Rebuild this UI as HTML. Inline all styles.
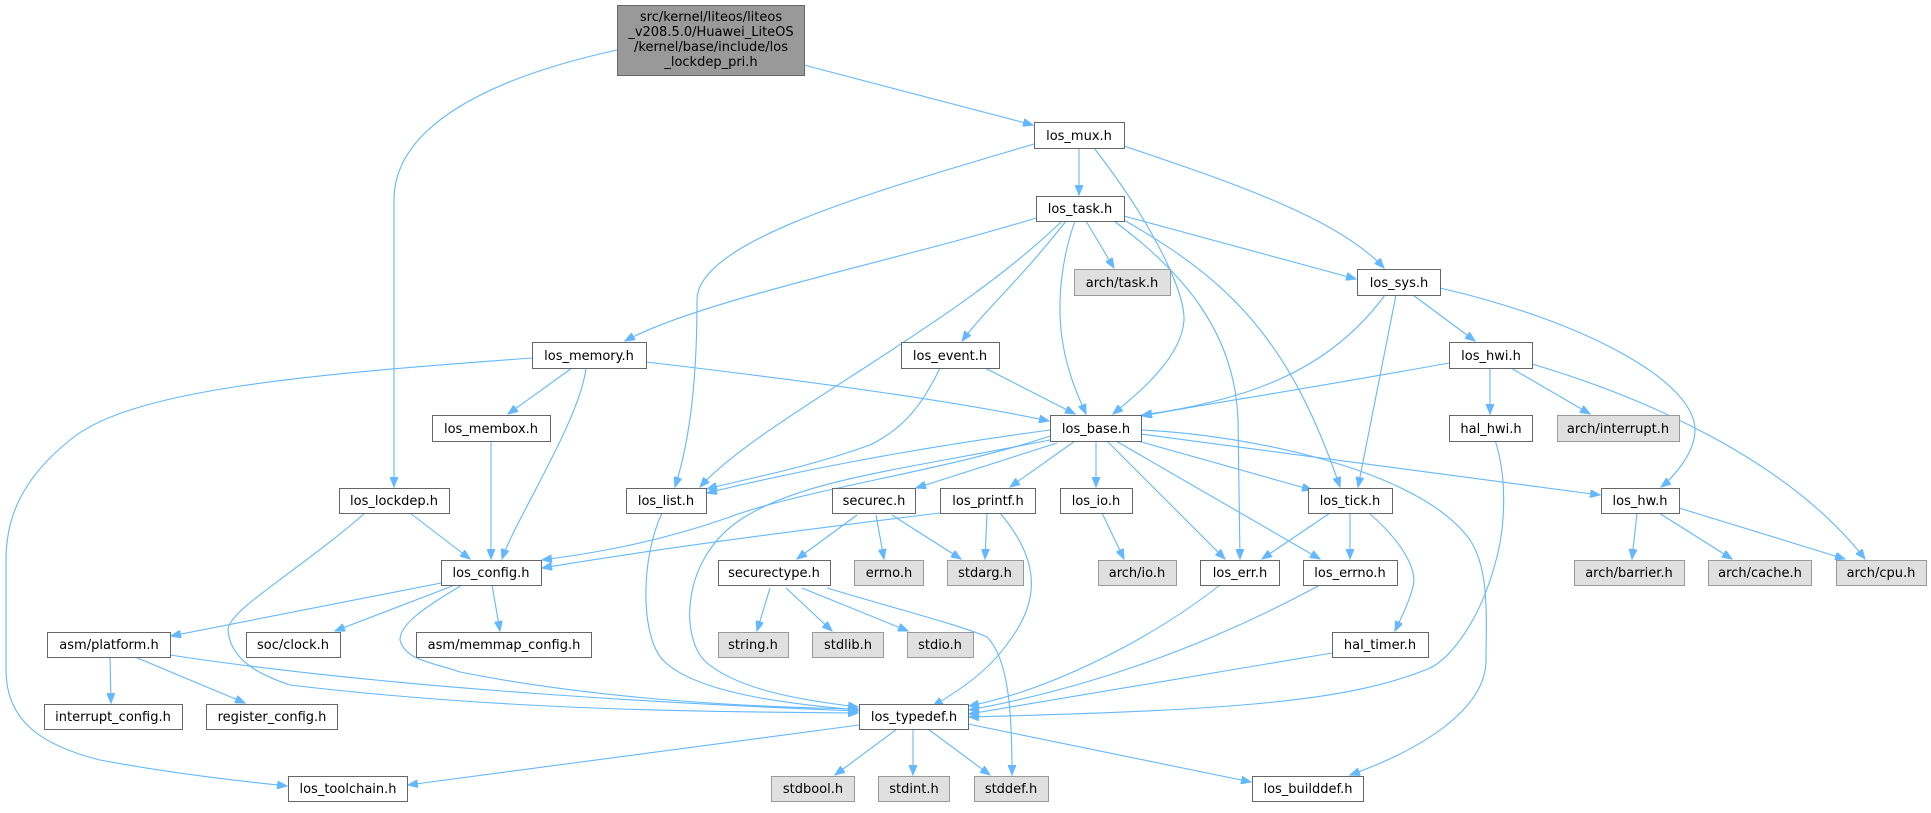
<!DOCTYPE html>
<html><head><meta charset="utf-8"><style>
html,body{margin:0;padding:0;background:#fff;}
svg{display:block;}
text{font-family:"DejaVu Sans","Liberation Sans",sans-serif;font-size:13px;fill:#000;}
.n{fill:#fff;stroke:#666;stroke-width:1;}
.g{fill:#e0e0e0;stroke:#999;stroke-width:1;}
.r{fill:#999;stroke:#666;stroke-width:1;}
path{fill:none;stroke:#63b8ff;stroke-width:1.1;}
</style></head><body>
<svg width="1931" height="813" viewBox="0 0 1931 813" xmlns="http://www.w3.org/2000/svg">
<defs><marker id="a" markerWidth="11" markerHeight="8" refX="10" refY="4" orient="auto" markerUnits="userSpaceOnUse"><path d="M0,0 L10,4 L0,8 Z" style="fill:#63b8ff;stroke:#63b8ff;stroke-width:1"/></marker></defs>
<g marker-end="url(#a)">
<path d="M617,50 C480,80 394,130 394,200 L394,487"/>
<path d="M804,65 L1033,125"/>
<path d="M1034,144 C880,190 697,240 697,300 C697,380 690,440 675,487"/>
<path d="M1079,148 L1079,195"/>
<path d="M1094,148 C1150,220 1185,290 1184,320 C1182,360 1130,400 1113,414"/>
<path d="M1124,146 C1240,185 1340,220 1384,268"/>
<path d="M1036,218 C900,260 700,300 625,341"/>
<path d="M1062,221 C950,330 760,420 700,487"/>
<path d="M1066,221 C1020,280 985,310 962,341"/>
<path d="M1075,221 C1061,260 1058,300 1061,330 C1065,370 1080,400 1086,414"/>
<path d="M1086,221 L1114,268"/>
<path d="M1114,221 C1180,270 1235,330 1238,420 L1240,559"/>
<path d="M1122,219 C1230,280 1290,340 1340,487"/>
<path d="M1124,216 L1356,279"/>
<path d="M1385,295 C1330,370 1250,400 1142,415"/>
<path d="M1396,295 L1358,487"/>
<path d="M1413,295 L1475,341"/>
<path d="M1440,288 C1580,320 1695,380 1695,430 C1695,455 1670,480 1661,487"/>
<path d="M1449,363 C1300,390 1200,405 1142,416"/>
<path d="M1490,368 L1490,414"/>
<path d="M1511,368 L1590,414"/>
<path d="M1532,364 C1620,390 1780,450 1865,559"/>
<path d="M532,358 C300,375 130,390 70,440 C20,480 6,520 6,560 L6,670 C6,720 40,745 100,760 C180,775 250,782 287,786"/>
<path d="M572,368 L508,414"/>
<path d="M586,368 C580,420 515,520 502,559"/>
<path d="M646,362 C800,380 950,400 1049,421"/>
<path d="M491,441 L491,559"/>
<path d="M940,368 C920,410 900,430 870,445 C800,470 740,480 707,489"/>
<path d="M985,368 L1075,414"/>
<path d="M1050,430 C900,450 780,475 707,493"/>
<path d="M1050,436 C950,470 800,490 727,518 C650,545 580,555 542,560"/>
<path d="M1050,440 C900,470 800,480 740,520 C680,560 680,640 707,663 C740,690 800,700 858,707"/>
<path d="M662,513 C640,560 640,640 665,662 C700,695 800,705 858,710"/>
<path d="M1057,443 L916,488"/>
<path d="M1075,441 L1010,487"/>
<path d="M1096,441 L1096,487"/>
<path d="M1107,441 L1225,559"/>
<path d="M1116,441 L1320,559"/>
<path d="M1138,441 L1312,490"/>
<path d="M1141,434 L1600,495"/>
<path d="M1141,430 C1250,435 1420,470 1470,540 C1490,570 1486,620 1486,660 C1486,710 1420,750 1350,775"/>
<path d="M1330,513 L1262,559"/>
<path d="M1350,513 L1350,559"/>
<path d="M1369,513 C1400,540 1420,570 1412,590 C1408,605 1400,620 1395,631"/>
<path d="M1102,513 L1124,559"/>
<path d="M987,513 L985,559"/>
<path d="M857,515 L797,559"/>
<path d="M876,515 L884,559"/>
<path d="M892,515 L961,559"/>
<path d="M940,513 C800,530 650,550 542,568"/>
<path d="M1000,513 C1040,560 1040,600 1010,640 C990,670 960,690 933,706"/>
<path d="M770,588 L757,631"/>
<path d="M786,588 L832,631"/>
<path d="M802,588 L908,631"/>
<path d="M827,588 C900,610 960,625 987,637 C1010,660 1012,720 1012,775"/>
<path d="M1637,513 L1632,559"/>
<path d="M1659,513 L1732,559"/>
<path d="M1679,508 L1845,559"/>
<path d="M1220,585 C1150,640 1050,690 969,706"/>
<path d="M1320,585 C1200,650 1080,690 969,710"/>
<path d="M1332,653 L969,714"/>
<path d="M1495,440 C1508,480 1505,530 1495,564 C1480,620 1450,660 1428,669 C1350,700 1250,710 969,717"/>
<path d="M859,725 L408,785"/>
<path d="M897,729 L835,775"/>
<path d="M913,729 L913,775"/>
<path d="M928,729 L990,775"/>
<path d="M968,724 L1251,782"/>
<path d="M410,513 L470,559"/>
<path d="M365,513 C300,570 228,610 228,630 C230,660 260,675 290,685 C500,710 700,712 858,713"/>
<path d="M462,585 C420,610 400,625 400,640 C405,660 431,662 460,672 C600,700 750,707 858,709"/>
<path d="M441,583 L171,636"/>
<path d="M455,585 L335,631"/>
<path d="M492,585 L500,631"/>
<path d="M110,657 L111,703"/>
<path d="M135,657 L245,703"/>
<path d="M170,655 C400,690 700,705 858,711"/>
</g>
<g>
<rect class="r" x="617.5" y="5.5" width="187" height="70"/>
<text x="711" y="21" text-anchor="middle">src/kernel/liteos/liteos</text>
<text x="711" y="36" text-anchor="middle">_v208.5.0/Huawei_LiteOS</text>
<text x="711" y="51" text-anchor="middle">/kernel/base/include/los</text>
<text x="711" y="66" text-anchor="middle">_lockdep_pri.h</text>
</g>
<g id="nodes"></g>
<g>
<rect class="n" x="1034.5" y="122.5" width="90" height="26"/><text x="1079" y="140" text-anchor="middle">los_mux.h</text>
<rect class="n" x="1036.5" y="196.5" width="88" height="25"/><text x="1080" y="213" text-anchor="middle">los_task.h</text>
<rect class="g" x="1074.5" y="269.5" width="96" height="26"/><text x="1122" y="287" text-anchor="middle">arch/task.h</text>
<rect class="n" x="1357.5" y="269.5" width="83" height="26"/><text x="1399" y="287" text-anchor="middle">los_sys.h</text>
<rect class="n" x="532.5" y="342.5" width="114" height="26"/><text x="589" y="360" text-anchor="middle">los_memory.h</text>
<rect class="n" x="901.5" y="342.5" width="98" height="26"/><text x="950" y="360" text-anchor="middle">los_event.h</text>
<rect class="n" x="1449.5" y="342.5" width="83" height="26"/><text x="1491" y="360" text-anchor="middle">los_hwi.h</text>
<rect class="n" x="432.5" y="415.5" width="118" height="26"/><text x="491" y="433" text-anchor="middle">los_membox.h</text>
<rect class="n" x="1050.5" y="415.5" width="91" height="26"/><text x="1096" y="433" text-anchor="middle">los_base.h</text>
<rect class="n" x="1449.5" y="415.5" width="83" height="26"/><text x="1491" y="433" text-anchor="middle">hal_hwi.h</text>
<rect class="g" x="1557.5" y="415.5" width="122" height="26"/><text x="1618" y="433" text-anchor="middle">arch/interrupt.h</text>
<rect class="n" x="339.5" y="488.5" width="110" height="25"/><text x="394" y="505" text-anchor="middle">los_lockdep.h</text>
<rect class="n" x="626.5" y="488.5" width="80" height="25"/><text x="666" y="505" text-anchor="middle">los_list.h</text>
<rect class="n" x="832.5" y="488.5" width="83" height="25"/><text x="874" y="505" text-anchor="middle">securec.h</text>
<rect class="n" x="940.5" y="488.5" width="95" height="25"/><text x="988" y="505" text-anchor="middle">los_printf.h</text>
<rect class="n" x="1060.5" y="488.5" width="72" height="25"/><text x="1096" y="505" text-anchor="middle">los_io.h</text>
<rect class="n" x="1308.5" y="488.5" width="84" height="25"/><text x="1350" y="505" text-anchor="middle">los_tick.h</text>
<rect class="n" x="1601.5" y="488.5" width="78" height="25"/><text x="1640" y="505" text-anchor="middle">los_hw.h</text>
<rect class="n" x="441.5" y="560.5" width="100" height="25"/><text x="491" y="577" text-anchor="middle">los_config.h</text>
<rect class="n" x="718.5" y="560.5" width="112" height="25"/><text x="774" y="577" text-anchor="middle">securectype.h</text>
<rect class="g" x="854.5" y="560.5" width="69" height="25"/><text x="889" y="577" text-anchor="middle">errno.h</text>
<rect class="g" x="947.5" y="560.5" width="76" height="25"/><text x="985" y="577" text-anchor="middle">stdarg.h</text>
<rect class="g" x="1098.5" y="560.5" width="78" height="25"/><text x="1137" y="577" text-anchor="middle">arch/io.h</text>
<rect class="n" x="1200.5" y="560.5" width="79" height="25"/><text x="1240" y="577" text-anchor="middle">los_err.h</text>
<rect class="n" x="1303.5" y="560.5" width="94" height="25"/><text x="1350" y="577" text-anchor="middle">los_errno.h</text>
<rect class="g" x="1574.5" y="560.5" width="110" height="25"/><text x="1629" y="577" text-anchor="middle">arch/barrier.h</text>
<rect class="g" x="1708.5" y="560.5" width="103" height="25"/><text x="1760" y="577" text-anchor="middle">arch/cache.h</text>
<rect class="g" x="1836.5" y="560.5" width="90" height="25"/><text x="1881" y="577" text-anchor="middle">arch/cpu.h</text>
<rect class="n" x="47.5" y="632.5" width="123" height="25"/><text x="109" y="649" text-anchor="middle">asm/platform.h</text>
<rect class="n" x="246.5" y="632.5" width="94" height="25"/><text x="293" y="649" text-anchor="middle">soc/clock.h</text>
<rect class="n" x="416.5" y="632.5" width="175" height="25"/><text x="504" y="649" text-anchor="middle">asm/memmap_config.h</text>
<rect class="g" x="718.5" y="632.5" width="70" height="25"/><text x="753" y="649" text-anchor="middle">string.h</text>
<rect class="g" x="812.5" y="632.5" width="71" height="25"/><text x="848" y="649" text-anchor="middle">stdlib.h</text>
<rect class="g" x="907.5" y="632.5" width="66" height="25"/><text x="940" y="649" text-anchor="middle">stdio.h</text>
<rect class="n" x="1332.5" y="632.5" width="96" height="25"/><text x="1380" y="649" text-anchor="middle">hal_timer.h</text>
<rect class="n" x="44.5" y="704.5" width="138" height="25"/><text x="113" y="721" text-anchor="middle">interrupt_config.h</text>
<rect class="n" x="206.5" y="704.5" width="131" height="25"/><text x="272" y="721" text-anchor="middle">register_config.h</text>
<rect class="n" x="859.5" y="704.5" width="109" height="25"/><text x="914" y="721" text-anchor="middle">los_typedef.h</text>
<rect class="n" x="288.5" y="776.5" width="119" height="25"/><text x="348" y="793" text-anchor="middle">los_toolchain.h</text>
<rect class="g" x="771.5" y="776.5" width="83" height="25"/><text x="813" y="793" text-anchor="middle">stdbool.h</text>
<rect class="g" x="878.5" y="776.5" width="71" height="25"/><text x="914" y="793" text-anchor="middle">stdint.h</text>
<rect class="g" x="974.5" y="776.5" width="74" height="25"/><text x="1011" y="793" text-anchor="middle">stddef.h</text>
<rect class="n" x="1252.5" y="776.5" width="111" height="25"/><text x="1308" y="793" text-anchor="middle">los_builddef.h</text>
</g>
</svg>
</body></html>
